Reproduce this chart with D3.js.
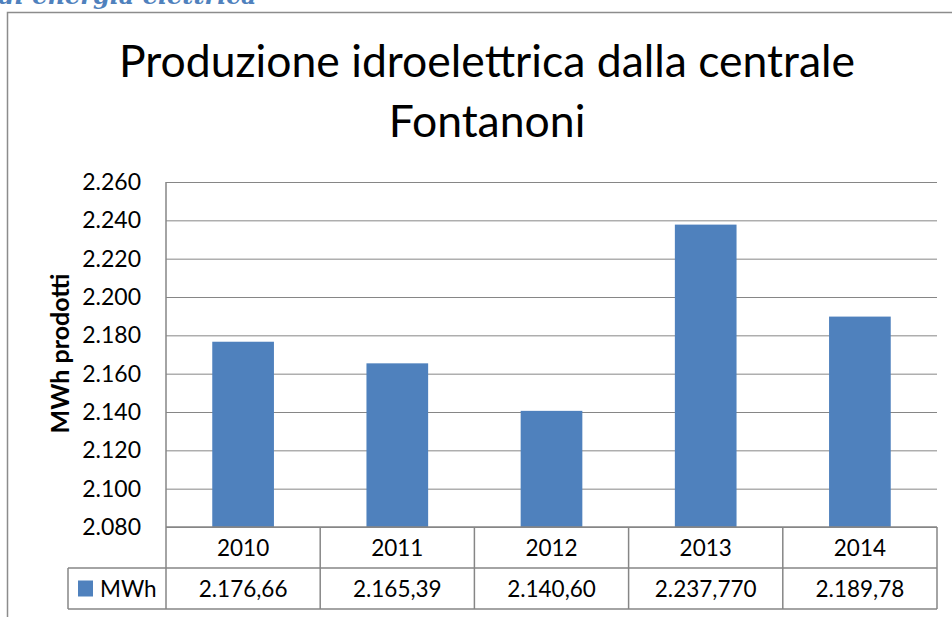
<!DOCTYPE html>
<html>
<head>
<meta charset="utf-8">
<script src="https://d3js.org/d3.v7.min.js"></script>
<style>
  body { margin: 0; background: #fff; }
  svg { display: block; font-family: Lato, "Open Sans", sans-serif; }
</style>
</head>
<body>
<div id="chart"></div>
<script>
// chart data
var years = ["2010", "2011", "2012", "2013", "2014"];
var mwh = [2176.66, 2165.39, 2140.60, 2237.770, 2189.78];
var mwhLabels = ["2.176,66", "2.165,39", "2.140,60", "2.237,770", "2.189,78"];
var yTicks = [2080, 2100, 2120, 2140, 2160, 2180, 2200, 2220, 2240, 2260];
var seriesName = "MWh";
var titleLines = ["Produzione idroelettrica dalla centrale", "Fontanoni"];
var axisTitle = "MWh prodotti";

var W = 952, H = 617;
var margin = {top: 182, right: 15, bottom: 90, left: 166};
var plotW = W - margin.left - margin.right;
var plotH = H - margin.top - margin.bottom;
var rowH = 41;
var grey = "#868686";
var barColor = "#4f81bd";

var it = d3.formatLocale({decimal: ",", thousands: ".", grouping: [3], currency: ["€", ""]});

var svg = d3.select("#chart").append("svg")
    .attr("width", W)
    .attr("height", H);

// heading of the page, cut at the top
svg.append("text")
    .attr("x", -2)
    .attr("y", 4)
    .attr("fill", "#4f81bd")
    .attr("font-style", "italic")
    .attr("font-weight", "bold")
    .attr("font-size", 24)
    .attr("font-family", "'DejaVu Serif', serif")
    .text("di energia elettrica");

// chart frame
svg.append("rect")
    .attr("x", 7.5)
    .attr("y", 12.5)
    .attr("width", W + 10)
    .attr("height", H + 10)
    .attr("fill", "#fff")
    .attr("stroke", "#8c8c8c")
    .attr("stroke-width", 1.5);

// title
svg.append("g").selectAll("text")
    .data(titleLines)
    .join("text")
    .attr("x", 487)
    .attr("y", function(d, i) { return 77 + i * 60; })
    .attr("text-anchor", "middle")
    .attr("font-size", 44.5)
    .attr("fill", "#000")
    .text(function(d) { return d; });

var x = d3.scaleBand()
    .domain(years)
    .range([0, plotW])
    .padding(0);

var y = d3.scaleLinear()
    .domain([yTicks[0], yTicks[yTicks.length - 1]])
    .range([plotH, 0]);

var g = svg.append("g")
    .attr("transform", "translate(" + margin.left + "," + margin.top + ")");

// gridlines + tick labels
var yAxis = g.append("g")
    .call(d3.axisLeft(y)
        .tickValues(yTicks)
        .tickSize(-plotW)
        .tickPadding(25)
        .tickFormat(it.format(",d")));
yAxis.select(".domain").remove();
yAxis.selectAll(".tick line")
    .attr("stroke", grey)
    .attr("stroke-width", 1);
yAxis.selectAll(".tick text")
    .attr("font-size", 23)
    .attr("font-family", "Lato, sans-serif")
    .attr("fill", "#000");

// axis title
g.append("text")
    .attr("transform", "translate(-97," + (plotH / 2 - 1) + ") rotate(-90)")
    .attr("text-anchor", "middle")
    .attr("font-size", 25)
    .attr("font-weight", "bold")
    .text(axisTitle);

// bars
var barW = x.bandwidth() * 0.4;
g.append("g").selectAll("rect")
    .data(mwh)
    .join("rect")
    .attr("x", function(d, i) { return x(years[i]) + (x.bandwidth() - barW) / 2; })
    .attr("y", function(d) { return y(d); })
    .attr("width", barW)
    .attr("height", function(d) { return plotH - y(d); })
    .attr("fill", barColor);

// data table
var table = g.append("g")
    .attr("transform", "translate(0," + plotH + ")")
    .attr("stroke", grey)
    .attr("stroke-width", 1.5)
    .attr("fill", "none");

var legendX = -98;
table.append("line").attr("x1", 0).attr("x2", plotW).attr("y1", 0).attr("y2", 0);
table.append("line").attr("x1", legendX).attr("x2", plotW).attr("y1", rowH).attr("y2", rowH);
table.append("line").attr("x1", legendX).attr("x2", plotW).attr("y1", rowH * 2).attr("y2", rowH * 2);
table.append("line").attr("x1", legendX).attr("x2", legendX).attr("y1", rowH).attr("y2", rowH * 2);
table.selectAll(".sep")
    .data(years.concat(["end"]))
    .join("line")
    .attr("class", "sep")
    .attr("x1", function(d, i) { return i * x.step(); })
    .attr("x2", function(d, i) { return i * x.step(); })
    .attr("y1", function(d, i) { return i === 0 ? -plotH : 0; })
    .attr("y2", rowH * 2);

var cells = g.append("g")
    .attr("transform", "translate(0," + plotH + ")")
    .attr("text-anchor", "middle")
    .attr("font-size", 22.5)
    .attr("fill", "#000");

cells.selectAll(".year")
    .data(years)
    .join("text")
    .attr("class", "year")
    .attr("x", function(d) { return x(d) + x.bandwidth() / 2; })
    .attr("y", rowH / 2)
    .attr("dy", "0.36em")
    .text(function(d) { return d; });

cells.selectAll(".val")
    .data(mwhLabels)
    .join("text")
    .attr("class", "val")
    .attr("x", function(d, i) { return x(years[i]) + x.bandwidth() / 2; })
    .attr("y", rowH * 1.5)
    .attr("dy", "0.36em")
    .text(function(d) { return d; });

// legend key in table
var key = g.append("g")
    .attr("transform", "translate(" + (legendX + 10) + "," + (plotH + rowH * 1.5) + ")");
key.append("rect")
    .attr("x", 0)
    .attr("y", -8)
    .attr("width", 15)
    .attr("height", 16)
    .attr("fill", barColor);
key.append("text")
    .attr("x", 22)
    .attr("dy", "0.36em")
    .attr("font-size", 22.5)
    .text(seriesName);
</script>
</body>
</html>
